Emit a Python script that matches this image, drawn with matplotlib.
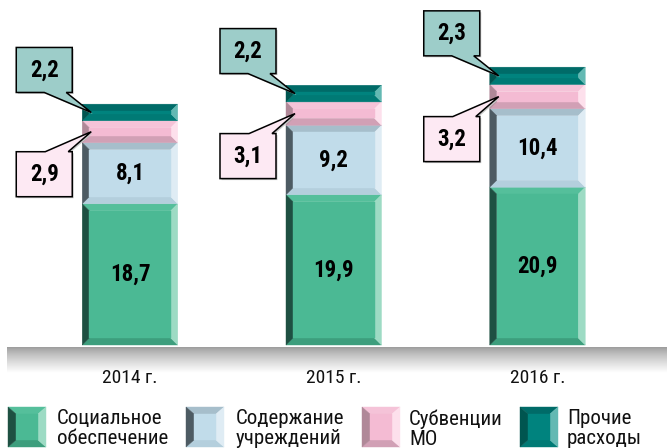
import numpy as np
import matplotlib
matplotlib.use("Agg")
import matplotlib.pyplot as plt
from matplotlib.patches import Polygon
from matplotlib.transforms import IdentityTransform
from matplotlib.colors import LinearSegmentedColormap


# ======================
# Data
# ======================

years = ["2014 г.", "2015 г.", "2016 г."]

social = [18.7, 19.9, 20.9]
upkeep = [8.1, 9.2, 10.4]
subvention = [2.9, 3.1, 3.2]
other = [2.2, 2.2, 2.3]

series_names = [
    "Социальное\nобеспечение",
    "Содержание\nучреждений",
    "Субвенции\nМО",
    "Прочие\nрасходы",
]


# ======================
# Style
# ======================

plt.rcParams["font.family"] = ["Roboto Condensed", "DejaVu Sans"]

# face, top, bottom, left, right
PALETTE = [
    ("#4bb994", "#55bf9b", "#3d9e7d", "#1e5042", "#9ddbc4"),
    ("#c1dcea", "#a6becb", "#b4cfdd", "#4d5b63", "#dfecf4"),
    ("#f4bbd3", "#f5c3d8", "#d1a0b5", "#b08898", "#fde0ec"),
    ("#00837e", "#006b68", "#007a75", "#005550", "#63b9b3"),
]
BOX_COLORS = {2: "#fde9f3", 3: "#9dcdc9"}

W, H = 667, 448
PX_X = 203.75          # pixels per category step
PX_Y = 7.55            # pixels per value unit
BASE_PX = 103          # zero line, pixels from the bottom
FIRST_PX = 130         # centre of first bar
BAR_W = 95.5 / PX_X
BEV = 7


def bevel_box(ax, x0, x1, y0, y1, cols, bw, bh, **kw):
    face, top, bot, left, right = cols
    polys = [
        ([(x0, y0), (x1, y0), (x1 - bw, y0 + bh), (x0 + bw, y0 + bh)], bot),
        ([(x0, y1), (x1, y1), (x1 - bw, y1 - bh), (x0 + bw, y1 - bh)], top),
        ([(x0, y0), (x0 + bw, y0 + bh), (x0 + bw, y1 - bh), (x0, y1)], left),
        ([(x1, y0), (x1 - bw, y0 + bh), (x1 - bw, y1 - bh), (x1, y1)], right),
        ([(x0 + bw, y0 + bh), (x1 - bw, y0 + bh),
          (x1 - bw, y1 - bh), (x0 + bw, y1 - bh)], face),
    ]
    for pts, c in polys:
        ax.add_patch(Polygon(pts, closed=True, facecolor=c,
                             edgecolor=c, linewidth=0.3, **kw))


fig = plt.figure(figsize=(W / 100, H / 100), dpi=100)
fig.patch.set_facecolor("white")

# floor band
ax_floor = fig.add_axes([7 / W, 75 / H, 660 / W, 26 / H])
grad = np.linspace(0, 1, 60) ** 0.8
floor_cmap = LinearSegmentedColormap.from_list("floor", ["#9c9c9c", "#ffffff"])
ax_floor.imshow(grad[:, None], cmap=floor_cmap, aspect="auto",
                extent=[0, 1, 0, 1], vmin=0, vmax=1)
ax_floor.axis("off")

# main axes
ax = fig.add_axes([0, 0, 1, 1])
ax.set_xlim(-FIRST_PX / PX_X, (W - FIRST_PX) / PX_X)
ax.set_ylim(-BASE_PX / PX_Y, (H - BASE_PX) / PX_Y)
ax.axis("off")

series = [social, upkeep, subvention, other]
x = np.arange(len(years))
bw = BEV / PX_X

callouts = []
for i in x:
    bottom = 0.0
    left = i - BAR_W / 2
    right = i + BAR_W / 2
    for s, vals in enumerate(series):
        v = vals[i]
        bh = min(BEV / PX_Y, 0.45 * v)
        bevel_box(ax, left, right, bottom, bottom + v, PALETTE[s], bw, bh)
        mid = bottom + v / 2
        label = f"{v:.1f}".replace(".", ",")
        if s < 2:
            ax.text(i, mid, label, ha="center", va="center",
                    fontsize=16.5, fontweight="bold", color="black")
        else:
            callouts.append((left + 9 / PX_X, mid, s, label))
        bottom += v

    ax.text(i, -33 / PX_Y, years[i], ha="center", va="center",
            fontsize=14, color="#111111")

# callout boxes with pointers (offsets in pixels from the tip)
for tx, ty, s, label in callouts:
    px, py = ax.transData.transform((tx, ty))
    L, R = -75, -19
    if s == 3:
        B, T = 20, 65
        a, b = -47, -25
        verts = [(L, B), (L, T), (R, T), (R, B), (b, B), (0, 0), (a, B)]
    else:
        T, B = -20, -65
        a, b = -46, -23
        verts = [(L, T), (a, T), (0, 0), (b, T), (R, T), (R, B), (L, B)]
    cy = (B + T) / 2
    verts = np.array(verts, dtype=float) + [px, py]
    shadow = Polygon(verts + [1.5, -1.5], closed=True, facecolor="#c8c8c8",
                     edgecolor="none", transform=IdentityTransform(),
                     zorder=4)
    fig.add_artist(shadow)
    box = Polygon(verts, closed=True, facecolor=BOX_COLORS[s],
                  edgecolor="black", linewidth=1.1,
                  transform=IdentityTransform(), zorder=5)
    fig.add_artist(box)
    fig.text((px + (L + R) / 2) / W, (py + cy) / H, label,
             ha="center", va="center", fontsize=16.5, fontweight="bold",
             color="black", zorder=6)

# legend
ax_leg = fig.add_axes([0, 0, 1, 1])
ax_leg.set_xlim(0, W)
ax_leg.set_ylim(0, H)
ax_leg.axis("off")

sw_left = [8, 186, 362, 520]
txt_left = [57, 236, 409, 567]
for k, name in enumerate(series_names):
    x0 = sw_left[k]
    bevel_box(ax_leg, x0, x0 + 38, H - 447, H - 407, PALETTE[k], 8, 7)
    ax_leg.text(txt_left[k], H - 409, name, ha="left", va="top",
                fontsize=15, color="#111111", linespacing=1.08)

fig.savefig("out.png", dpi=100)
